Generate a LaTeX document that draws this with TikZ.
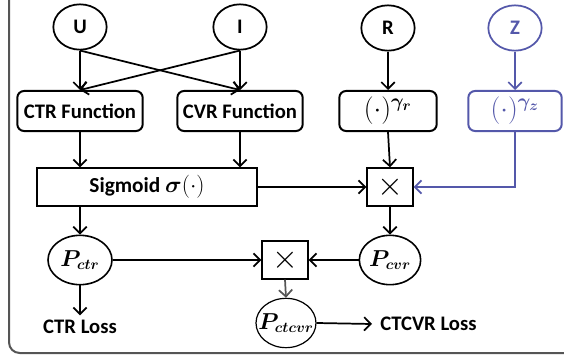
\documentclass[tikz,border=0pt]{standalone}
\usepackage{amsmath,bm}
\usepackage{fontspec}
\setmainfont{Carlito}
\usetikzlibrary{arrows.meta,shapes.geometric}

\definecolor{zblue}{RGB}{84,88,170}
\definecolor{framegray}{RGB}{85,85,85}

\tikzset{
	every node/.style={font=\bfseries\fontsize{15.5}{17}\selectfont},
	var/.style={draw, ellipse, line width=1.3pt, inner sep=0pt,
		minimum width=40pt, minimum height=34pt},
	prob/.style={draw, ellipse, line width=1.2pt, inner sep=0pt,
		minimum width=46pt, minimum height=37pt, font=\fontsize{16}{18}\selectfont},
	func/.style={draw, rounded corners=5pt, line width=1.5pt,
		minimum width=94pt, minimum height=30pt, inner sep=0pt},
	mul/.style={draw, line width=1.5pt, minimum width=34pt, minimum height=28pt,
		inner sep=0pt, font=\fontsize{24}{26}\selectfont},
	arr/.style={-{Straight Barb[length=5pt,width=10pt]}, line width=1.3pt},
}

\begin{document}
\begin{tikzpicture}[x=0.75pt,y=-0.75pt]
	\useasboundingbox (0,0) rectangle (564,360);
	% frame
	\draw[framegray, line width=1.5pt, rounded corners=8pt] (9,-20) -- (9,353) -- (600,353);

	% inputs
	\node[var] (U) at (80,27) {U};
	\node[var] (I) at (240,27) {I};
	\node[var] (R) at (388,28) {R};
	\node[var, draw=zblue, text=zblue] (Z) at (515,28) {Z};

	% functions
	\node[func] (ctrf) at (80,111) {CTR Function};
	\node[func] (cvrf) at (240,111) {CVR Function};
	\node[func, minimum width=73pt] (gr) at (388,111)
		{\fontsize{22}{24}\selectfont$(\cdot)^{\bm{\gamma_r}}$};
	\node[func, minimum width=70pt, draw=zblue, text=zblue] (gz) at (515,111)
		{\fontsize{22}{24}\selectfont$(\cdot)^{\bm{\gamma_z}}$};
	\node[draw, line width=1.5pt, minimum width=165pt, minimum height=28pt,
		inner sep=0pt, font=\bfseries\fontsize{16}{18}\selectfont] (sig) at (147,187)
		{Sigmoid $\bm{\sigma}(\cdot)$};
	\node[mul] (mulA) at (390,187) {$\times$};

	% outputs
	\node[prob, minimum width=48pt] (Pctr) at (80,260) {$\bm{P_{ctr}}$};
	\node[mul] (mulB) at (285,260) {$\times$};
	\node[prob] (Pcvr) at (390,260) {$\bm{P_{cvr}}$};
	\node[prob, line width=0.9pt, inner xsep=-7pt, inner ysep=-4pt,
		minimum width=45pt] (Pctcvr) at (286,323) {$\bm{P_{ctcvr}}$};
	\node (ctrloss) at (80,327) {CTR Loss};
	\node[anchor=west, inner sep=0pt] (ctcvrloss) at (380,324) {CTCVR Loss};

	\draw[arr] (U.south) -- (ctrf.north);
	\draw[arr] (U.south) -- (cvrf.north);
	\draw[arr] (I.south) -- (cvrf.north);
	\draw[arr] (I.south) -- (ctrf.north);
	\draw[arr] (R.south) -- (gr.north);
	\draw[arr, zblue] (Z.south) -- (gz.north);
	\draw[arr] (ctrf.south) -- (ctrf.south |- sig.north);
	\draw[arr] (cvrf.south) -- (cvrf.south |- sig.north);
	\draw[arr] (gr.south) -- (mulA.north);
	\draw[arr, zblue] (gz.south) |- (mulA.east);
	\draw[arr] (sig.east) -- (mulA.west);
	\draw[arr] (Pctr.north |- sig.south) -- (Pctr.north);
	\draw[arr] (mulA.south) -- (Pcvr.north);
	\draw[arr] (Pctr.east) -- (mulB.west);
	\draw[arr] (Pcvr.west) -- (mulB.east);
	\draw[arr, framegray] (mulB.south) -- (Pctcvr.north);
	\draw[arr] (Pctr.south) -- (ctrloss.north);
	\draw[arr] (Pctcvr.east) -- ([xshift=-6pt]ctcvrloss.west);
\end{tikzpicture}
\end{document}
